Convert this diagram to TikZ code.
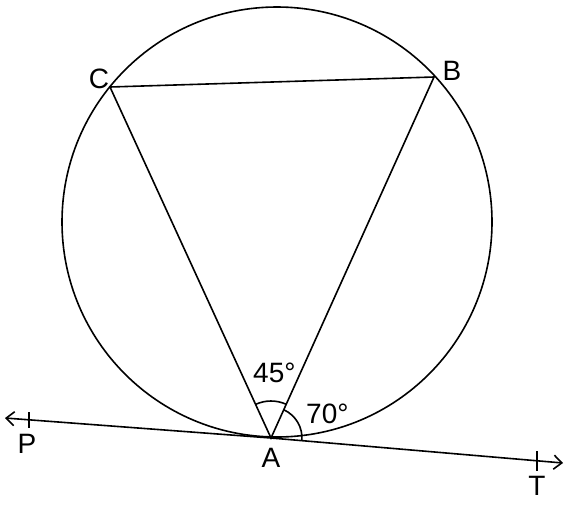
\documentclass[tikz,border=0pt]{standalone}
\usepackage{fontspec}
\setmainfont{Liberation Sans}
\usetikzlibrary{arrows.meta}
\begin{document}
\begin{tikzpicture}[x=1pt,y=-1pt,
  geo/.style={line width=1.6pt, black},
  lbl/.style={inner sep=0pt, anchor=base, font=\fontsize{28}{30}\selectfont},
  tip/.style={-{Straight Barb[length=8pt,width=14pt]}}]
\useasboundingbox (0,0) rectangle (567,504);
\coordinate (O) at (277,222);
\coordinate (A) at (271,438);
\coordinate (B) at (434,77);
\coordinate (C) at (110,87);
\coordinate (Pend) at (5,418);
\coordinate (Tend) at (563,463);
\coordinate (Pt) at (29,420);
\coordinate (Tt) at (537,461);
% circle
\draw[geo] (O) circle[radius=215];
% triangle
\draw[geo] (A) -- (C) -- (B) -- cycle;
% tangent line
\draw[geo,tip] (A) -- (Pend);
\draw[geo,tip] (A) -- (Tend);
% ticks
\draw[geo] (Pt) ++(0,-8) -- ++(0,16);
\draw[geo] (Tt) ++(0,-10) -- ++(0,20);
% angle arcs (y axis flipped: angles measured clockwise)
\draw[geo] (A) ++(-65.70:37) arc[start angle=-65.70, end angle=-114.64, radius=37];
\draw[geo] (A) ++(4.89:31) arc[start angle=4.89, end angle=-65.70, radius=31];
% labels
\node[lbl] (lP) at (27,453) {P};
\node[lbl] (lT) at (537,495) {T};
\node[lbl] (lA) at (271,467) {A};
\node[lbl] (lC) at (99,88) {C};
\node[lbl] (lB) at (452,80) {B};
\node[lbl,anchor=base west] (l45) at (253,382) {45°};
\node[lbl,anchor=base west] (l70) at (306,423) {70°};
\end{tikzpicture}
\end{document}
